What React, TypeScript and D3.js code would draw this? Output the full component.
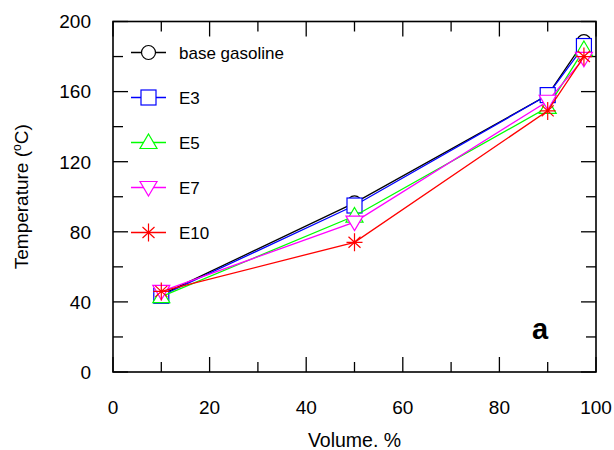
import React from "react";
import * as d3 from "d3";

const volumes = [10, 50, 90, 97.5];
const seriesNames = ["base gasoline", "E3", "E5", "E7", "E10"];
const baseGasoline = [44, 96.5, 158, 188.5];
const e3 = [43.5, 95, 158, 186];
const e5 = [43, 89, 151, 184];
const e7 = [46, 85.5, 154.5, 179];
const e10 = [46, 74, 149, 180];
const xTicks = [0, 20, 40, 60, 80, 100];
const yTicks = [0, 40, 80, 120, 160, 200];

const colors = ["#000000", "#0000ff", "#00ff00", "#ff00ff", "#ff0000"];
const shapes = ["circle", "square", "triUp", "triDown", "star"];
const allValues = [baseGasoline, e3, e5, e7, e10];

const W = 614, H = 450;
const margin = { left: 113, right: 18, top: 21.5, bottom: 78 };
const font = "'Liberation Sans', Arial, sans-serif";

function Marker({ shape, color, x, y }: { shape: string; color: string; x: number; y: number }) {
	const s = 7.5;
	const common = { stroke: color, strokeWidth: 1.2, fill: "#fff" };
	if ( shape === "circle" )
		return <circle cx={x} cy={y} r={7} {...common} />;
	if ( shape === "square" )
		return <rect x={x - s} y={y - s} width={2 * s} height={2 * s} {...common} />;
	if ( shape === "triUp" )
		return <path d={`M${x},${y - 8.5}L${x + 8.5},${y + 6}L${x - 8.5},${y + 6}Z`} {...common} />;
	if ( shape === "triDown" )
		return <path d={`M${x},${y + 8.5}L${x + 8.5},${y - 6}L${x - 8.5},${y - 6}Z`} {...common} />;
	// asterisk: + and x
	return (
		<path
			d={`M${x},${y - 9}V${y + 9}M${x - 8},${y}H${x + 8}M${x - 6},${y - 5.5}L${x + 6},${y + 5.5}M${x - 6},${y + 5.5}L${x + 6},${y - 5.5}`}
			stroke={color} strokeWidth={1.2} fill="none"
		/>
	);
}

export default function App() {
	const x = d3.scaleLinear().domain( [ 0, 100 ] ).range( [ margin.left, W - margin.right ] );
	const y = d3.scaleLinear().domain( [ 0, 200 ] ).range( [ H - margin.bottom, margin.top ] );
	const x0 = x( 0 ), x1 = x( 100 ), y0 = y( 0 ), y1 = y( 200 );

	const line = d3.line<number>()
		.x( ( d, i ) => x( volumes[ i ] ) )
		.y( d => y( d ) );

	const xMinor = d3.range( 0, 101, 10 );
	const yMinor = d3.range( 0, 201, 20 );

	return (
		<svg width={W} height={H} style={{ position: "absolute", left: 0, top: 0, background: "#fff" }} fontFamily={font}>
			{/* ticks, inward on all four sides */}
			{xMinor.map( v => {
				const len = v % 20 === 0 ? 15 : 10;
				return (
					<g key={"xt" + v} stroke="#000" strokeWidth={1.3}>
						<line x1={x( v )} x2={x( v )} y1={y0} y2={y0 - len} />
						<line x1={x( v )} x2={x( v )} y1={y1} y2={y1 + len} />
					</g>
				);
			} )}
			{yMinor.map( v => {
				const len = v % 40 === 0 ? 15 : 10;
				return (
					<g key={"yt" + v} stroke="#000" strokeWidth={1.3}>
						<line x1={x0} x2={x0 + len} y1={y( v )} y2={y( v )} />
						<line x1={x1} x2={x1 - len} y1={y( v )} y2={y( v )} />
					</g>
				);
			} )}
			<rect x={x0} y={y1} width={x1 - x0} height={y0 - y1} fill="none" stroke="#000" strokeWidth={1.6} />

			{xTicks.map( v => (
				<text key={"xl" + v} x={x( v )} y={414} fontSize={19} textAnchor="middle">{v}</text>
			) )}
			{yTicks.map( v => (
				<text key={"yl" + v} x={91} y={y( v )} dy="0.36em" fontSize={19} textAnchor="end">{v}</text>
			) )}

			<text x={( x0 + x1 ) / 2} y={447} fontSize={19.5} textAnchor="middle">Volume. %</text>
			<text transform={`translate(28,${( y0 + y1 ) / 2}) rotate(-90)`} fontSize={19} textAnchor="middle">
				Temperature (<tspan fontSize={12} dy={-7}>o</tspan><tspan dy={7}>C)</tspan>
			</text>

			{allValues.map( ( vals, i ) => (
				<g key={"s" + i}>
					<path d={line( vals ) || ""} fill="none" stroke={colors[ i ]} strokeWidth={1.3} />
					{vals.map( ( v, j ) => (
						<Marker key={j} shape={shapes[ i ]} color={colors[ i ]} x={x( volumes[ j ] )} y={y( v )} />
					) )}
				</g>
			) )}

			{/* legend */}
			{seriesNames.map( ( name, i ) => {
				const ly = 52.5 + i * 45;
				return (
					<g key={"lg" + i}>
						<line x1={131} x2={166} y1={ly} y2={ly} stroke={colors[ i ]} strokeWidth={1.3} />
						<Marker shape={shapes[ i ]} color={colors[ i ]} x={148.5} y={ly} />
						<text x={179} y={ly} dy="0.36em" fontSize={17}>{name}</text>
					</g>
				);
			} )}

			<text x={532} y={339} fontSize={29} fontWeight="bold">a</text>
		</svg>
	);
}
